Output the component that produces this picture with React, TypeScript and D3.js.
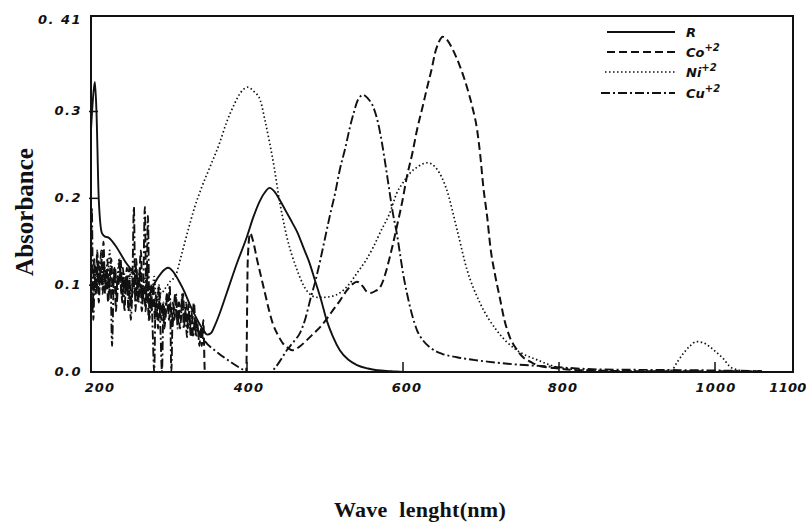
import React from "react";
import * as d3 from "d3";

const xTicks = [200, 400, 600, 800, 1000, 1100];
const xTickLabels = ["200", "400", "600", "800", "1000", "1100"];
const yTicks = [0, 0.1, 0.2, 0.3, 0.41];
const yTickLabels = ["0.0", "0.1", "0.2", "0.3", "0. 41"];

const legendNames = ["R", "Co", "Ni", "Cu"];
const legendCharges = ["", "+2", "+2", "+2"];

const rWave = [200,203,205,207,210,214,218,222,231,244,256,263,269,275,282,290,299,305,312,320,327,334,340,345,349,354,359,366,374,387,400,408,417,423,429,435,442,450,458,465,472,480,487,495,502,510,519,530,541,555,567,585,600,640];
const rAbs = [0.279,0.32,0.334,0.30,0.198,0.16,0.156,0.155,0.146,0.127,0.112,0.10,0.083,0.09,0.103,0.114,0.12,0.116,0.106,0.092,0.077,0.064,0.054,0.047,0.043,0.045,0.054,0.07,0.091,0.125,0.156,0.178,0.198,0.207,0.212,0.208,0.198,0.185,0.172,0.16,0.144,0.126,0.106,0.083,0.06,0.041,0.025,0.014,0.008,0.004,0.002,0.001,0,0];

const niWave = [200,203,206,209,212,215,218,221,224,227,230,233,236,239,242,245,248,251,254,257,260,263,266,269,272,275,278,281,284,287,290,294,298,302,308,316,325,333,342,352,365,374,382,392,401,409,417,423,429,435,440,451,464,478,490,497,508,519,530,541,552,562,572,583,592,600,609,620,631,644,656,669,682,699,720,746,772,801,840,900,944,952,960,968,976,984,992,1000,1010,1021,1040,1060];
const niAbs = [0.11,0.09,0.125,0.10,0.13,0.095,0.12,0.10,0.14,0.09,0.12,0.105,0.13,0.09,0.115,0.10,0.085,0.12,0.095,0.125,0.10,0.12,0.09,0.11,0.085,0.10,0.09,0.11,0.08,0.10,0.09,0.095,0.10,0.105,0.11,0.135,0.165,0.19,0.213,0.235,0.264,0.288,0.305,0.322,0.328,0.323,0.313,0.29,0.264,0.235,0.206,0.156,0.118,0.092,0.086,0.086,0.087,0.091,0.10,0.114,0.128,0.144,0.163,0.183,0.206,0.218,0.229,0.237,0.241,0.233,0.21,0.165,0.118,0.079,0.048,0.025,0.014,0.005,0.002,0.001,0.002,0.012,0.022,0.03,0.035,0.034,0.03,0.024,0.016,0.005,0.001,0.001];

const coWave = [200,202,204,206,208,210,212,214,216,218,220,222,224,226,228,230,232,234,236,238,240,242,244,246,248,250,252,254,256,258,260,262,264,266,268,270,272,274,276,278,280,282,284,286,288,290,292,294,296,298,300,302,304,306,308,310,312,314,316,318,320,322,324,326,328,330,332,334,336,338,340,342,344,346,370,399,401,404,408,413,418,423,428,433,440,446,452,458,467,477,485,494,502,510,519,528,535,541,545,549,553,558,564,571,577,583,592,599,605,612,618,625,631,637,641,646,651,657,664,673,682,689,695,699,703,708,712,718,724,730,737,745,754,765,775,800,827,900,1060];
const coAbs = [0.10,0.07,0.13,0.09,0.14,0.08,0.12,0.10,0.15,0.09,0.12,0.08,0.11,0.13,0.09,0.12,0.07,0.11,0.10,0.13,0.08,0.11,0.09,0.12,0.07,0.10,0.08,0.11,0.09,0.13,0.08,0.11,0.14,0.08,0.10,0.07,0.12,0.06,0.09,0.07,0.10,0.06,0.08,0.05,0.09,0.06,0.08,0.05,0.07,0.09,0.06,0.08,0.05,0.07,0.09,0.06,0.08,0.05,0.07,0.09,0.06,0.08,0.05,0.07,0.04,0.06,0.08,0.05,0.06,0.04,0.05,0.03,0.06,0,0,0,0.13,0.16,0.15,0.129,0.11,0.091,0.072,0.056,0.042,0.033,0.028,0.025,0.029,0.037,0.044,0.052,0.061,0.071,0.082,0.094,0.101,0.104,0.102,0.098,0.093,0.091,0.093,0.098,0.112,0.132,0.167,0.196,0.225,0.252,0.279,0.305,0.328,0.35,0.367,0.38,0.386,0.382,0.371,0.352,0.328,0.305,0.279,0.25,0.213,0.178,0.144,0.112,0.086,0.06,0.04,0.027,0.017,0.011,0.007,0.004,0.002,0.001,0.001];

const cuWave = [200,201,203,205,207,209,211,213,215,217,219,221,223,225,227,229,231,233,235,237,239,241,243,245,247,249,251,253,255,257,259,261,263,265,267,269,271,273,275,277,279,281,283,285,287,289,291,293,295,297,299,301,303,305,307,309,311,313,315,317,319,321,323,325,327,329,331,333,335,337,339,341,343,345,360,380,398,400,430,437,444,451,460,468,475,481,488,494,500,506,513,519,526,532,537,542,549,555,562,568,573,578,583,587,592,596,600,605,611,618,626,635,650,669,690,708,740,775,852,980,1060];
const cuAbs = [0.08,0.19,0.06,0.12,0.09,0.13,0.10,0.14,0.09,0.12,0.10,0.13,0.09,0.11,0.03,0.10,0.12,0.08,0.11,0.13,0.09,0.12,0.07,0.11,0.09,0.12,0.06,0.10,0.19,0.07,0.11,0.08,0.12,0.07,0.10,0.19,0.08,0.18,0.06,0.10,0.05,0.0,0.09,0.07,0.10,0.05,0.0,0.08,0.06,0.09,0.07,0.10,0.0,0.08,0.06,0.09,0.05,0.08,0.06,0.09,0.05,0.07,0.04,0.08,0.05,0.07,0.04,0.06,0.04,0.05,0.03,0.05,0.04,0.037,0.024,0.011,0.001,0,0,0.006,0.015,0.025,0.035,0.045,0.062,0.083,0.106,0.129,0.154,0.179,0.206,0.233,0.258,0.282,0.299,0.313,0.319,0.315,0.305,0.287,0.264,0.236,0.206,0.183,0.16,0.137,0.114,0.091,0.068,0.048,0.036,0.028,0.021,0.017,0.014,0.012,0.009,0.007,0.003,0.002,0.001];

const W = 806;
const H = 529;

export default function App() {
  const x = d3.scaleLinear().domain([200, 1100]).range([91, 793]);
  const y = d3.scaleLinear().domain([0, 0.41]).range([372, 16]);
  const line = d3
    .line<[number, number]>()
    .x((d) => x(d[0]))
    .y((d) => y(d[1]))
    .curve(d3.curveMonotoneX);

  const zip = (a: number[], b: number[]) => a.map((v, i) => [v, b[i]] as [number, number]);

  const series = [
    { d: zip(rWave, rAbs), dash: "none", w: 1.9 },
    { d: zip(coWave, coAbs), dash: "8,4", w: 2 },
    { d: zip(niWave, niAbs), dash: "1.5,2.5", w: 1.7 },
    { d: zip(cuWave, cuAbs), dash: "9,3,2,3", w: 1.9 },
  ];

  const tickFont = "'DejaVu Sans', sans-serif";
  const legendY = [32, 52, 72, 93];
  const legendX0 = [607, 607, 605, 601];
  const xLabelShift = [9, 2, 4, 4, 1, -5];

  return (
    <svg width={W} height={H} style={{ position: "absolute", left: 0, top: 0, background: "#fff" }}>
      <rect x={0} y={0} width={W} height={H} fill="#fff" />
      {series.map((s, i) => (
        <path
          key={i}
          d={line(s.d) || ""}
          fill="none"
          stroke="#111"
          strokeWidth={s.w}
          strokeDasharray={s.dash}
          strokeLinejoin="round"
        />
      ))}
      <path
        d={`M${x(200)},${y(0.41)}H${x(1100)}V${y(0)}H${x(200)}Z`}
        fill="none"
        stroke="#111"
        strokeWidth={2}
      />
      {yTicks.slice(1, 4).map((t) => (
        <line key={t} x1={x(200) - 2} x2={x(200) + 7} y1={y(t)} y2={y(t)} stroke="#111" strokeWidth={1.5} />
      ))}
      {yTicks.map((t, i) => (
        <text
          key={t}
          x={82}
          y={y(t) + (i === 4 ? 4 : 0)}
          textAnchor="end"
          dominantBaseline="middle"
          fontFamily={tickFont}
          fontStyle="italic"
          fontWeight="bold"
          fontSize={13}
          letterSpacing={1.5}
          fill="#111"
        >
          {yTickLabels[i]}
        </text>
      ))}
      {xTicks.slice(1, 5).map((t) => (
        <line key={t} x1={x(t)} x2={x(t)} y1={y(0)} y2={y(0) - 10} stroke="#111" strokeWidth={1.5} />
      ))}
      {xTicks.map((t, i) => (
        <text
          key={t}
          x={x(t) + xLabelShift[i]}
          y={392}
          textAnchor="middle"
          fontFamily={tickFont}
          fontStyle="italic"
          fontWeight="bold"
          fontSize={13}
          letterSpacing={i === 5 ? 0.3 : 1.2}
          fill="#111"
        >
          {xTickLabels[i]}
        </text>
      ))}
      {legendNames.map((n, i) => (
        <g key={n}>
          <line
            x1={legendX0[i]}
            x2={675}
            y1={legendY[i]}
            y2={legendY[i]}
            stroke="#111"
            strokeWidth={series[i].w}
            strokeDasharray={series[i].dash}
          />
          <text
            x={686}
            y={legendY[i] + 5}
            fontFamily={tickFont}
            fontStyle="italic"
            fontSize={13}
            fontWeight="bold"
            fill="#111"
          >
            {n}
            {legendCharges[i] && (
              <tspan dy={-6} fontSize={10}>
                {legendCharges[i]}
              </tspan>
            )}
          </text>
        </g>
      ))}
      <text
        transform={`translate(33,212) rotate(-90)`}
        textAnchor="middle"
        fontFamily="'Liberation Serif', 'Times New Roman', serif"
        fontWeight="bold"
        fontSize={25}
        fill="#111"
      >
        Absorbance
      </text>
      <text
        x={420}
        y={517}
        textAnchor="middle"
        fontFamily="'Liberation Serif', 'Times New Roman', serif"
        fontWeight="bold"
        fontSize={22}
        letterSpacing={0.3}
        fill="#111"
        style={{ whiteSpace: "pre" }}
      >
        {"Wave  lenght(nm)"}
      </text>
    </svg>
  );
}
